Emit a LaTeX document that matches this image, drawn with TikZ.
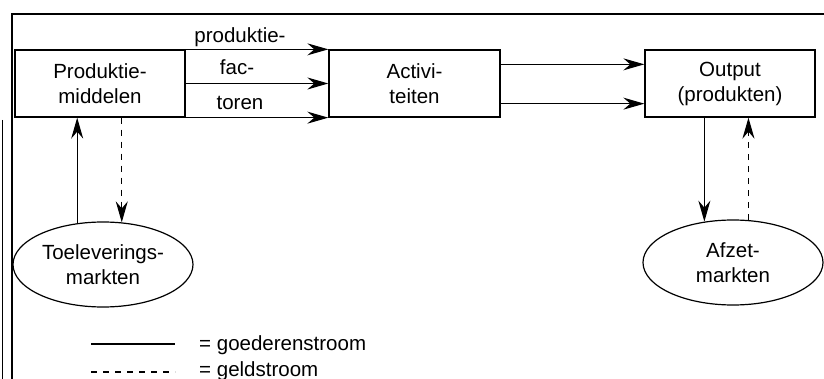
\documentclass[tikz,border=0pt]{standalone}
\usepackage{fontspec}
\setmainfont{Liberation Sans}
\usetikzlibrary{shapes.geometric,arrows.meta}
\begin{document}
\begin{tikzpicture}[x=1pt,y=-1pt,
  every node/.style={font=\fontsize{20.5}{25}\selectfont},
  boxnode/.style={draw,line width=1.3pt,minimum width=170pt,minimum height=67pt,align=center,inner sep=0pt},
  ellnode/.style={draw,line width=1.2pt,ellipse,minimum width=180pt,minimum height=85pt,align=center,inner sep=0pt},
  arr/.style={line width=1.2pt,-{Stealth[length=21pt,width=12pt,inset=7pt]}},
  darr/.style={arr,dash pattern=on 6pt off 6pt},
  lbl/.style={anchor=base,inner sep=0pt}]
\useasboundingbox (0,0) rectangle (824,379);
% frame
\draw[line width=1.4pt] (12,379) -- (12,14) -- (824,14);
\draw[line width=0.9pt] (2,120) -- (2,379);
% boxes
\node[boxnode] (pm) at (100,83.5) {Produktie-\\middelen};
\node[boxnode,minimum width=171pt] (act) at (414.5,83.5) {Activi-\\teiten};
\node[boxnode] (out) at (730,83.5) {Output\\(produkten)};
\node[ellnode] (toe) at (103,264.5) {Toeleverings-\\markten};
\node[ellnode] (afz) at (733,262.5) {Afzet-\\markten};
% production factor flows
\draw[arr] (pm.north east) -- (act.north west);
\draw[arr] (pm.east) -- (act.west);
\draw[arr] (pm.south east) -- (act.south west);
\node[lbl] (l1) at (240,43) {produktie-};
\node[lbl] (l2) at (237,75) {fac-};
\node[lbl] (l3) at (240,110) {toren};
% activities to output
\draw[arr] ([yshift=-15pt]act.north east) -- ([yshift=-15pt]out.north west);
\draw[arr] ([yshift=14pt]act.south east) -- ([yshift=14pt]out.south west);
% left markets
\draw[arr] (toe.122) -- (toe.122 |- pm.south);
\draw[darr] (pm.south -| toe.66) -- (toe.66);
% right markets
\draw[arr] (out.south -| afz.125) -- (afz.125);
\draw[darr] (afz.70) -- (afz.70 |- out.south);
% legend
\coordinate (g1) at (91,344);
\coordinate (g2) at (175,344);
\coordinate (d1) at (91,372);
\coordinate (d2) at (175,372);
\draw[line width=1.2pt] (g1) -- (g2);
\draw[line width=1.2pt,dash pattern=on 6pt off 6pt] (d1) -- (d2);
\node[anchor=base west,inner sep=0pt] (t1) at (199,350) {= goederenstroom};
\node[anchor=base west,inner sep=0pt] (t2) at (199,376) {= geldstroom};
\end{tikzpicture}
\end{document}
